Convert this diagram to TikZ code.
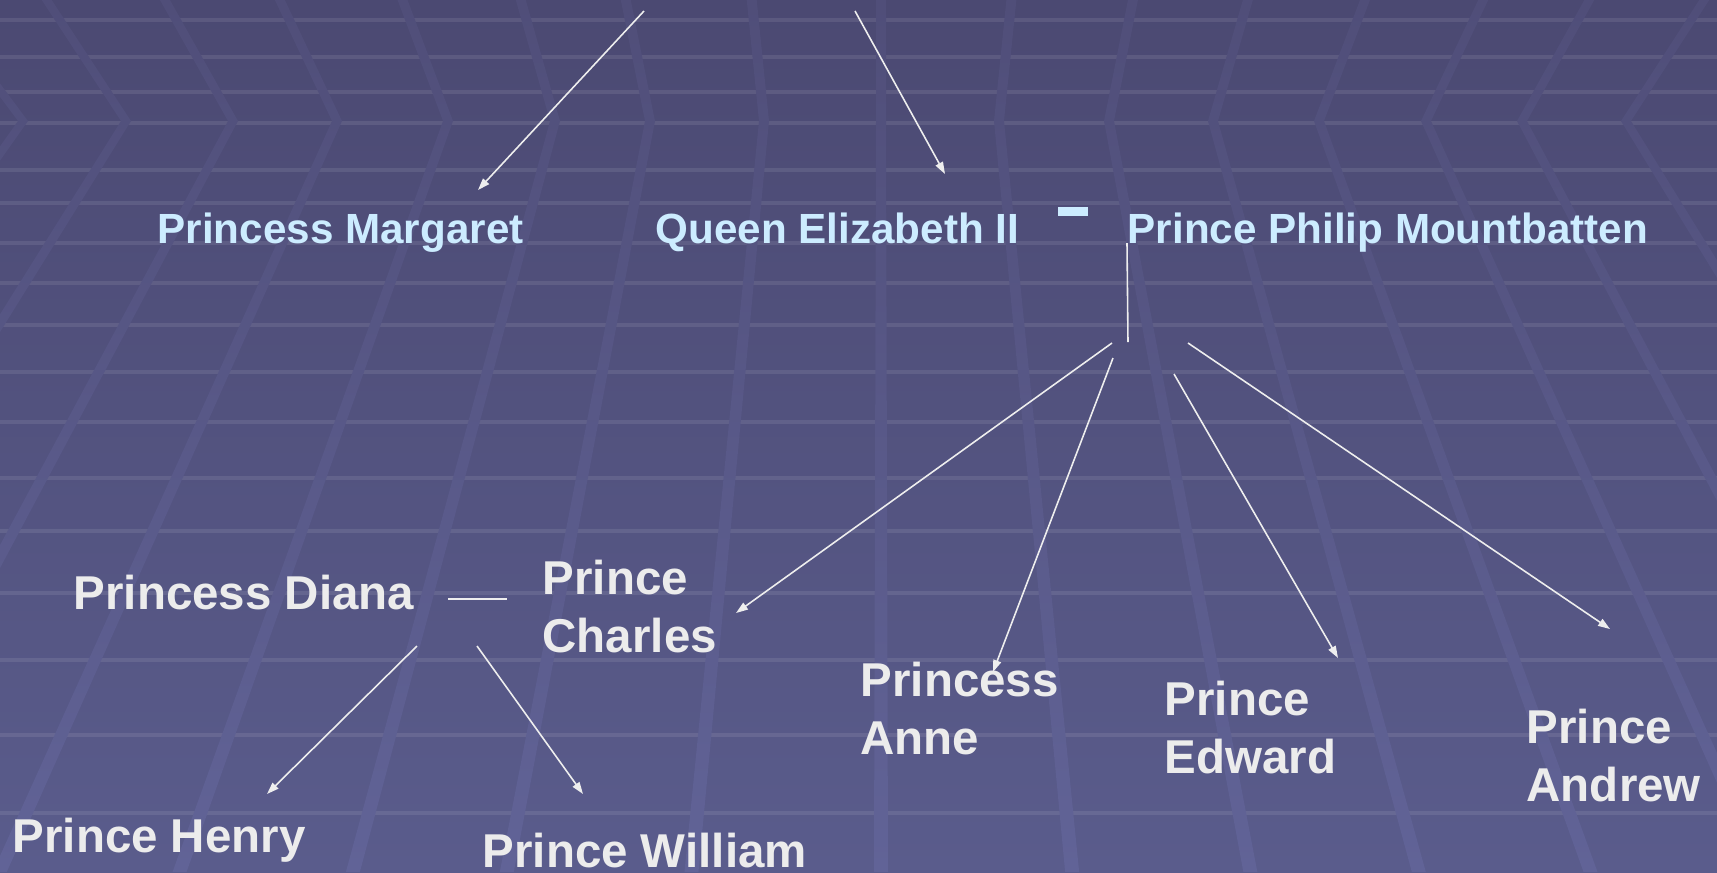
\documentclass[tikz,border=0pt]{standalone}
\usepackage{fontspec}
\setmainfont{Liberation Sans}
\usetikzlibrary{arrows.meta,positioning,calc}
\definecolor{bgTop}{HTML}{4B4972}
\definecolor{bgBot}{HTML}{5A5C8C}
\definecolor{bandTop}{HTML}{504E79}
\definecolor{bandBot}{HTML}{616397}
\definecolor{royalBlue}{HTML}{CCECFF}
\definecolor{royalGrey}{HTML}{ECECEC}
\definecolor{linkWhite}{HTML}{EEEEEE}

\begin{document}
\begin{tikzpicture}[x=0.01cm,y=-0.01cm,
    elder/.style={anchor=base west,inner sep=0pt,text=royalBlue,font=\fontsize{12}{14}\selectfont\bfseries},
    heir/.style={anchor=base west,inner sep=0pt,align=left,text=royalGrey,font=\fontsize{13.5}{16.4}\selectfont\bfseries},
    descent/.style={draw=linkWhite,line width=0.45pt,-{Triangle[length=3.4pt,width=2.3pt]}},
    wedlock/.style={draw=linkWhite,line width=0.45pt}]
  \useasboundingbox (0,0) rectangle (1717,872);
  \begin{scope}
    \clip (0,0) rectangle (1717,872);
    \shade[top color=bgTop,bottom color=bgBot] (0,0) rectangle (1717,872);
    \foreach \h in {20,57,92,123,170,203,243,283,325,372,422,478,531,593,660,735,813}
      \draw[white,opacity=0.09,line width=1.2pt] (0,\h) -- (1717,\h);
    \clip foreach \v in {-85,23,126,233,337,448,555,650,764,881,999,1109,1213,1319,1426,1522,1626,1730}
      {({\v-5+(\v-881)*0.105},0) -- ({\v-5},121) -- ({\v-7+(\v-881)*0.62},872)
       -- ({\v+7+(\v-881)*0.62},872) -- ({\v+5},121) -- ({\v+5+(\v-881)*0.105},0) -- cycle};
    \shade[top color=bandTop,bottom color=bandBot] (0,0) rectangle (1717,872);
  \end{scope}

  \node[elder] (marg) at (157,243) {Princess Margaret};
  \node[elder] (liz) at (655,243) {Queen Elizabeth II};
  \node[elder] (phil) at (1127,243) {Prince Philip Mountbatten};
  \node[fill=royalBlue,inner sep=0pt,minimum width=0.3cm,minimum height=0.09cm] (wed) at (1073,211.5) {};

  \node[heir] (diana) at (73,609) {Princess Diana};
  \node[heir] (charles) at (542,652) {Prince\\Charles};
  \node[heir] (anne) at (860,754) {Princess\\Anne};
  \node[heir] (edward) at (1164,773) {Prince\\Edward};
  \node[heir] (andrew) at (1526,801) {Prince\\Andrew};
  \node[heir] (henry) at (12,852) {Prince Henry};
  \node[heir] (william) at (482,867) {Prince William};

  \coordinate (margSrc) at (644,11);
  \coordinate (margTip) at (478,190);
  \coordinate (lizSrc) at (855,11);
  \coordinate (lizTip) at (945,174);
  \coordinate (philDrop) at (1128,342);
  \coordinate (charlesSrc) at (1112,343);
  \coordinate (charlesTip) at (736,613);
  \coordinate (anneSrc) at (1113,358);
  \coordinate (anneTip) at (993,672);
  \coordinate (edwardSrc) at (1174,374);
  \coordinate (edwardTip) at (1338,658);
  \coordinate (andrewSrc) at (1188,343);
  \coordinate (andrewTip) at (1610,629);
  \coordinate (dianaWed) at (448,599);
  \coordinate (charlesWed) at (507,599);
  \coordinate (henrySrc) at (417,646);
  \coordinate (henryTip) at (267,794);
  \coordinate (williamSrc) at (477,646);
  \coordinate (williamTip) at (583,794);

  \draw[descent] (margSrc) -- (margTip);
  \draw[descent] (lizSrc) -- (lizTip);
  \draw[wedlock] (phil.base west) -- (philDrop);
  \draw[descent] (charlesSrc) -- (charlesTip);
  \draw[descent] (anneSrc) -- (anneTip);
  \draw[descent] (edwardSrc) -- (edwardTip);
  \draw[descent] (andrewSrc) -- (andrewTip);
  \draw[wedlock] (dianaWed) -- (charlesWed);
  \draw[descent] (henrySrc) -- (henryTip);
  \draw[descent] (williamSrc) -- (williamTip);
\end{tikzpicture}
\end{document}
